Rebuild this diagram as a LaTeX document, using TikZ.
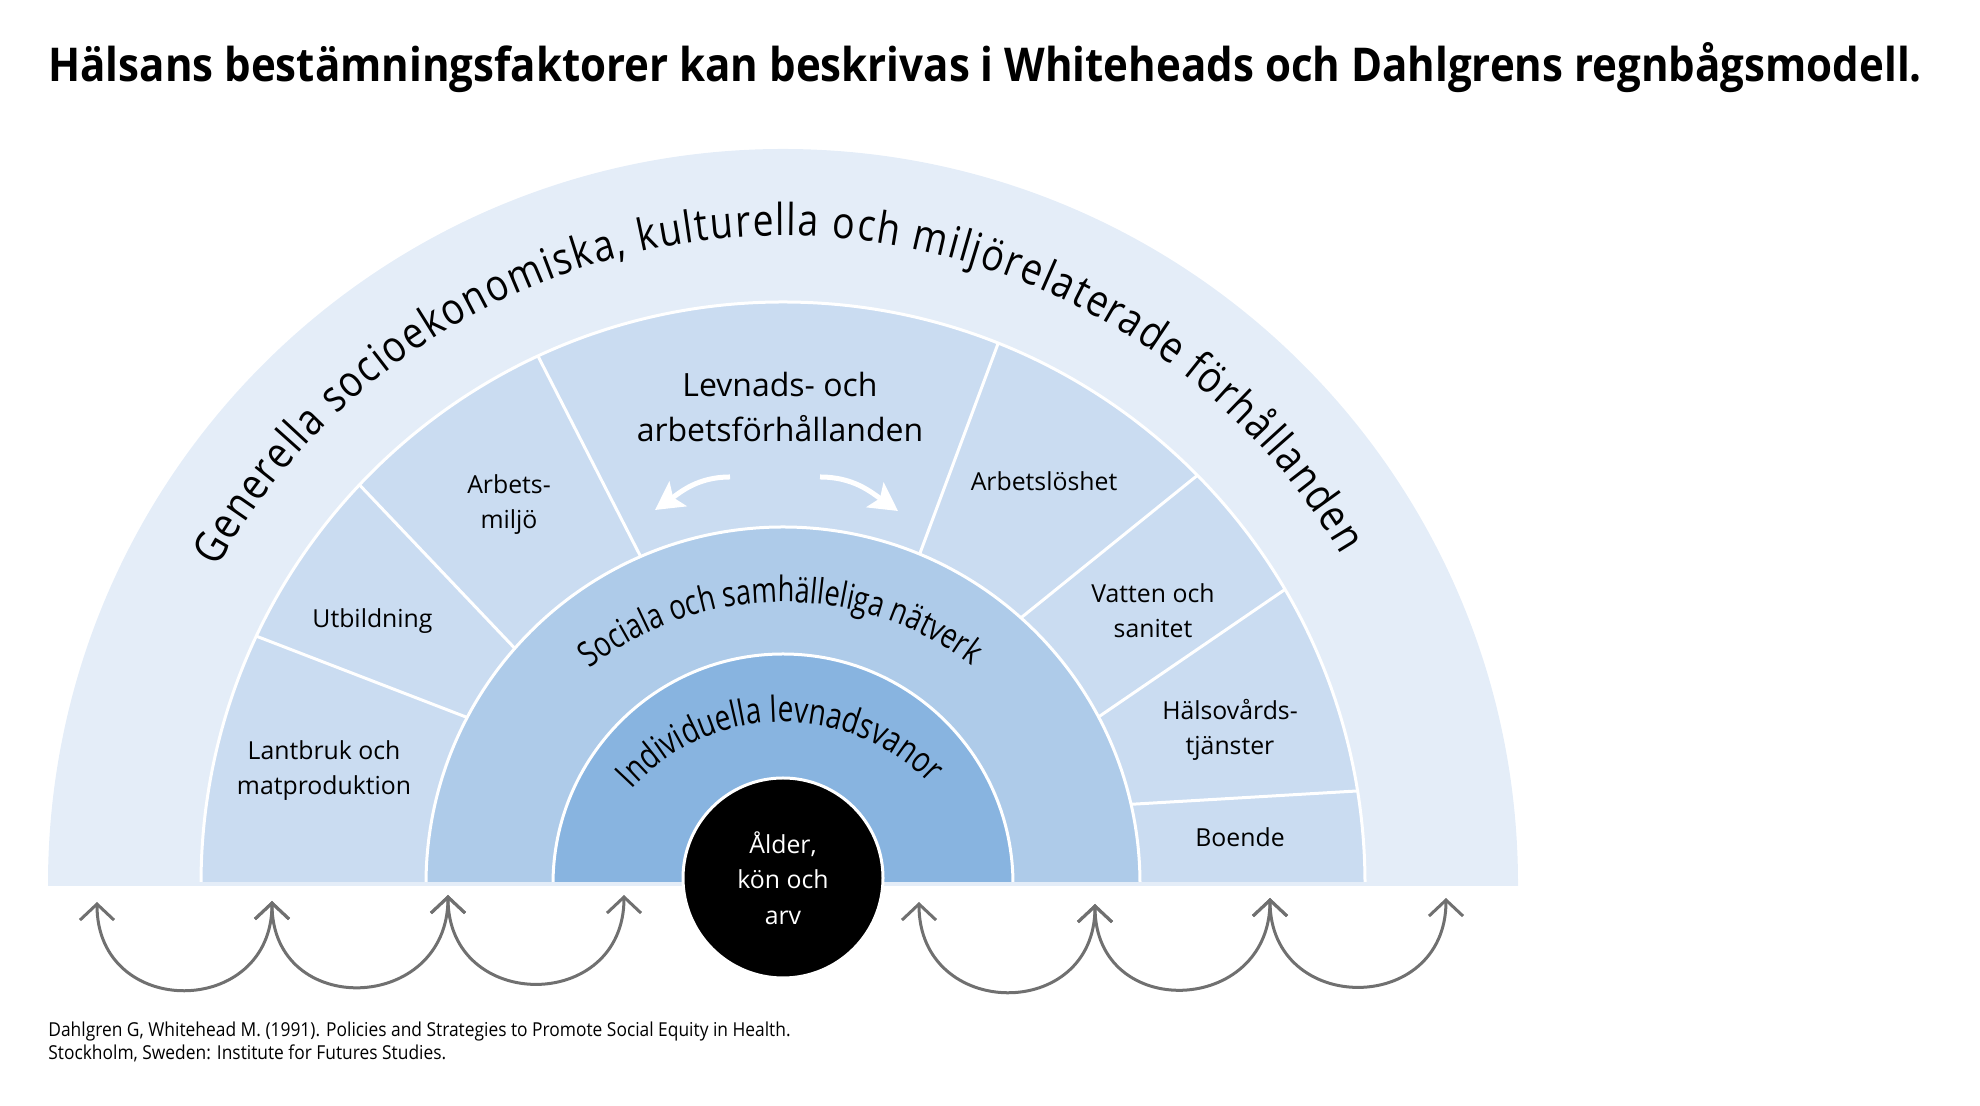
\documentclass[tikz,border=0pt]{standalone}
\usepackage{fontspec}
\setmainfont{Open Sans}
\newfontfamily\titlefont[FakeStretch=0.902]{Open Sans}
\newfontfamily\curvefont[FakeStretch=0.85]{Open Sans}
\newfontfamily\innerfont[FakeStretch=0.78]{Open Sans}
\newfontfamily\citefont[FakeStretch=0.905]{Open Sans}
\usetikzlibrary{decorations.text,arrows.meta}
\definecolor{bandA}{RGB}{228,237,248}
\definecolor{bandB}{RGB}{202,220,241}
\definecolor{bandC}{RGB}{174,203,233}
\definecolor{bandD}{RGB}{136,180,224}
\definecolor{arrowgray}{RGB}{112,112,112}
\begin{document}
\begin{tikzpicture}[x=0.5pt,y=0.5pt,
  ringline/.style={draw=white, line width=1.5pt},
  divider/.style={draw=white, line width=1.5pt},
  seglabel/.style={font=\fontsize{12.4}{17.5}\selectfont, align=center, anchor=base, inner sep=0pt},
  cyclearrow/.style={draw=arrowgray, line width=1.5pt, {Straight Barb[length=8pt,width=17pt]}-{Straight Barb[length=8pt,width=17pt]}},
  whitearrow/.style={draw=white, line width=2.5pt, -{Stealth[length=14pt,width=15pt,inset=3pt]}},
  arctext/.style={decorate, decoration={text along path, text align=fit to path, text={#1}}},
  arctextc/.style={decorate, decoration={text along path, text align=center, text={#1}}},
]
\useasboundingbox (0,0) rectangle (1980,1106);
\coordinate (C) at (783,222);
\coordinate (CS) at (783,192);
\coordinate (CI) at (783,180);
% outer band
\fill[bandA] (48,220) -- (48,222) arc[start angle=180,end angle=0,radius=735] -- (1518,220) -- cycle;
% segment ring
\filldraw[fill=bandB, ringline] ([shift={(180:582)}]C) arc[start angle=180,end angle=0,radius=582] -- cycle;
\draw[divider] ([shift={(152.2:357)}]C) -- ([shift={(154.8:582)}]C);
\draw[divider] ([shift={(138.7:357)}]C) -- ([shift={(136.7:582)}]C);
\draw[divider] ([shift={(113.5:357)}]C) -- ([shift={(114.9:582)}]C);
\draw[divider] ([shift={(67.5:357)}]C) -- ([shift={(68.3:582)}]C);
\draw[divider] ([shift={(48.2:357)}]C) -- ([shift={(44.6:582)}]C);
\draw[divider] ([shift={(27.9:357)}]C) -- ([shift={(30.4:582)}]C);
\draw[divider] ([shift={(12.9:357)}]C) -- ([shift={(9.2:582)}]C);
% social ring
\filldraw[fill=bandC, ringline] ([shift={(180:357)}]C) arc[start angle=180,end angle=0,radius=357] -- cycle;
% individual ring
\filldraw[fill=bandD, ringline] ([shift={(180:230)}]C) arc[start angle=180,end angle=0,radius=230] -- cycle;
% bottom strip
\fill[bandA] (48,220) rectangle (1518,224);
% core
\node[circle, fill=black, draw=white, line width=1.5pt, minimum size=100pt, inner sep=0pt,
  text=white, align=center, font=\fontsize{12.4}{17.75}\selectfont] (core) at (783,228) {Ålder,\\kön och\\arv};

% title
\node[anchor=base west, inner sep=0pt, font=\titlefont\bfseries\fontsize{23.3}{28}\selectfont] (title) at (48,1024.3)
  {Hälsans bestämningsfaktorer kan beskrivas i Whiteheads och Dahlgrens regnbågsmodell.};

% segment labels (anchor = baseline of last line)
\node[seglabel] (lantbruk) at (324,311.7) {Lantbruk och\\matproduktion};
\node[seglabel] (utbildning) at (372.5,478) {Utbildning};
\node[seglabel] (arbetsmiljo) at (509,577) {Arbets-\\miljö};
\node[seglabel, font=\fontsize{16}{22.5}\selectfont] (levnads) at (780,664.3) {Levnads- och\\arbetsförhållanden};
\node[seglabel] (arbetsloshet) at (1044,615) {Arbetslöshet};
\node[seglabel] (vatten) at (1153,468.7) {Vatten och\\sanitet};
\node[seglabel] (halsovard) at (1230,351) {Hälsovårds-\\tjänster};
\node[seglabel] (boende) at (1240,259.3) {Boende};

% white arrows
\coordinate (L0) at (730,629);
\coordinate (L1) at (655,596);
\coordinate (R0) at (820,629);
\coordinate (R1) at (898,595);
\draw[whitearrow] (L0) to[out=180,in=35] (L1);
\draw[whitearrow] (R0) to[out=0,in=145] (R1);

% curved texts
\path[arctext={|\curvefont\fontsize{22}{26}\selectfont|Generella socioekonomiska, kulturella och miljörelaterade förhållanden}]
  ([shift={(150.8:648)}]C) arc[start angle=150.8,end angle=30.5,radius=648];
\path[arctextc={|\innerfont\fontsize{17.5}{21}\selectfont|Sociala och samhälleliga nätverk}]
  ([shift={(170.5:312)}]CS) arc[start angle=170.5,end angle=10.5,radius=312];
\path[arctextc={|\innerfont\fontsize{18}{22}\selectfont|Individuella levnadsvanor}]
  ([shift={(171:204)}]CI) arc[start angle=171,end angle=11,radius=204];

% bottom cycle arrows
\coordinate (A1) at (97,204);
\coordinate (A2) at (272,205);
\coordinate (A3) at (448,211);
\coordinate (A4) at (624,211);
\coordinate (B1) at (919,204);
\coordinate (B2) at (1095,202);
\coordinate (B3) at (1270,208);
\coordinate (B4) at (1446,208);
\draw[cyclearrow] (A1) to[out=-90,in=-90,looseness=1.72] (A2);
\draw[cyclearrow] (A2) to[out=-90,in=-90,looseness=1.72] (A3);
\draw[cyclearrow] (A3) to[out=-90,in=-90,looseness=1.72] (A4);
\draw[cyclearrow] (B1) to[out=-90,in=-90,looseness=1.72] (B2);
\draw[cyclearrow] (B2) to[out=-90,in=-90,looseness=1.72] (B3);
\draw[cyclearrow] (B3) to[out=-90,in=-90,looseness=1.72] (B4);

% citation (anchor = baseline of last line)
\node[anchor=base west, inner sep=0pt, align=left, font=\citefont\fontsize{9.6}{11.65}\selectfont] (cite) at (48,46)
  {Dahlgren G, Whitehead M. (1991). Policies and Strategies to Promote Social Equity in Health.\\Stockholm, Sweden: Institute for Futures Studies.};
\end{tikzpicture}
\end{document}
